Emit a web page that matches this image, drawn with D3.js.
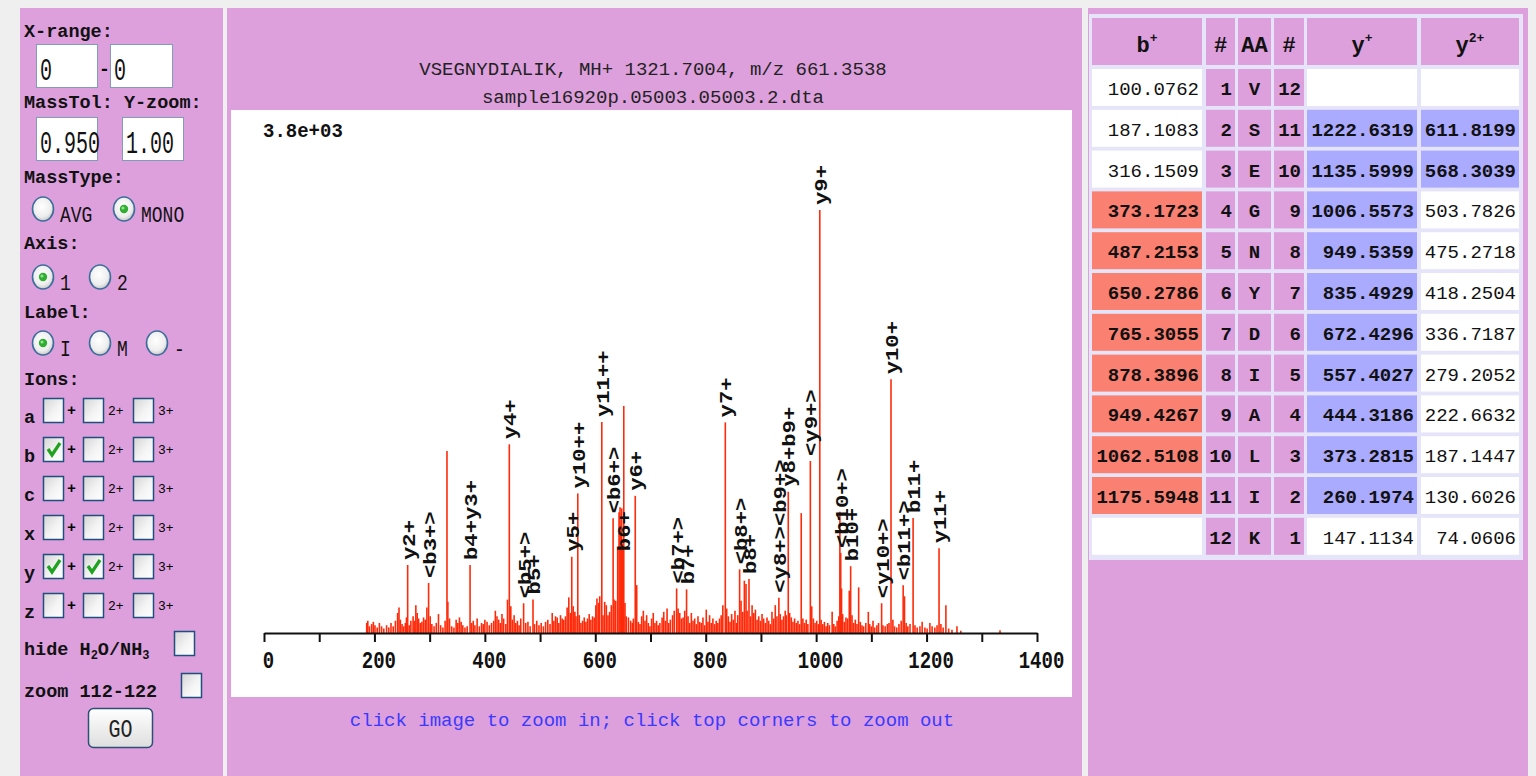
<!DOCTYPE html>
<html>
<head>
<meta charset="utf-8">
<script src="https://cdn.jsdelivr.net/npm/d3@7"></script>
<style>
body { margin: 0; background: #efefef; overflow: hidden; }
svg { display: block; }
text { font-family: "Liberation Mono", monospace; }
</style>
</head>
<body>
<svg id="page" width="1536" height="776"></svg>
<script>
// ---- data ----
var peptide = 'VSEGNYDIALIK';
var titleLine1 = 'VSEGNYDIALIK, MH+ 1321.7004, m/z 661.3538';
var titleLine2 = 'sample16920p.05003.05003.2.dta';
var maxIntensity = 3800;
var maxLabel = '3.8e+03';
var xTicks = [0,100,200,300,400,500,600,700,800,900,1000,1100,1200,1300,1400];

var residues = ['V','S','E','G','N','Y','D','I','A','L','I','K'];
var bIons  = ['100.0762','187.1083','316.1509','373.1723','487.2153','650.2786','765.3055','878.3896','949.4267','1062.5108','1175.5948',''];
var yIons  = ['','1222.6319','1135.5999','1006.5573','949.5359','835.4929','672.4296','557.4027','444.3186','373.2815','260.1974','147.1134'];
var y2Ions = ['','611.8199','568.3039','503.7826','475.2718','418.2504','336.7187','279.2052','222.6632','187.1447','130.6026','74.0606'];
var bFound  = [0,0,0,1,1,1,1,1,1,1,1,0];
var yFound  = [0,1,1,1,1,1,1,1,1,1,1,0];
var y2Found = [0,1,1,0,0,0,0,0,0,0,0,0];

// [m/z, intensity, label]
var labeledPeaks = [
  [260.2, 611, 'y2+'], [298.1, 449, '<b3+>'], [373.2, 611, 'b4+y3+'], [444.3, 1695, 'y4+'],
  [470.2, 267, '<b5+>'], [487.2, 302, 'b5+'], [557.4, 685, 'y5+'], [568.3, 1254, 'y10++'],
  [611.8, 1895, 'y11++'], [632.3, 1030, '<b6+>'], [650.3, 690, 'b6+'], [672.4, 1232, 'y6+'],
  [747.3, 400, '<b7+>'], [765.3, 392, 'b7+'], [835.5, 1892, 'y7+'], [861.4, 572, '<b8+>'],
  [878.4, 485, 'b8+'], [932.5, 317, '<y8+><b9+>'], [949.5, 1269, 'y8+b9+'], [989.5, 1545, '<y9+>'],
  [1006.6, 3800, 'y9+'], [1044.5, 718, '<b10+>'], [1062.5, 600, 'b10+'], [1118.6, 267, '<y10+>'],
  [1135.6, 2279, 'y10+'], [1157.6, 428, '<b11+>'], [1175.6, 1034, 'b11+'], [1222.6, 761, 'y11+']
];

// [m/z, intensity] unlabelled peaks
var otherPeaks = [
  [186,90],[188,110],[191,60],[195,80],[198,100],[201,70],[205,50],[209,90],[213,60],[217,40],[222,70],[226,50],[230,90],[234,60],[238,110],
  [242,180],[244.5,230],[247,120],[250,80],[253,60],[256,90],[258,140],[263,70],[266,110],[270,150],[272,110],[275,250],[277.5,180],[280,130],
  [283,90],[286,100],[289,140],[292,120],[295,230],[301,150],[304,80],[308,60],[312,90],[316,170],[320,70],[324,50],[328,110],
  [331.4,1634],[333,280],[336,130],[340,60],[344,50],[348,120],[351,90],[354,140],[357,100],[360,70],[364,50],[368,60],[376,90],[379,110],
  [382,70],[386,130],[390,60],[394,90],[397,80],[400,120],[404,100],[408,70],[412,90],[416,110],[419,200],[422,150],[425,120],[428,90],
  [431,170],[434,130],[438,80],[441,300],[447,240],[450,120],[453,160],[456,90],[459,110],[462,70],[465,130],[474,90],[478,100],[482,60],
  [490,80],[494,110],[498,70],[502,90],[506,60],[510,100],[514,120],[518,80],[522,180],[525,110],[528,150],[531,140],[534,90],[537,160],
  [540,130],[543,120],[546,150],[549,230],[552,320],[555,180],[560,240],[563,190],[565,150],[571,160],[574,90],[577,110],[580,140],[583,100],
  [586,130],[589,170],[592,120],[595,150],[598,140],[601,250],[603,310],[606,270],[608,330],[614,160],[617,280],[620,250],[623,160],[626,190],
  [629,250],[634,300],[637,290],[640.6,770],[643,1085],[644.8,1130],[646.3,900],[647.8,1120],[649,800],[651.6,2040],[653.8,270],[656,150],
  [660,140],[664,110],[667,90],[669,130],[675,430],[678,100],[681,80],[684,150],[687,200],[690,110],[693,160],[696,90],[699,60],[702,130],
  [705,180],[708,90],[711,110],[714,70],[717,90],[721,140],[724,190],[727,110],[730,220],[733,90],[736,120],[740,160],[743,200],[750,220],
  [753,180],[756,130],[759,140],[762,200],[768,150],[771,90],[774,180],[777,110],[780,130],[783,80],[786,150],[789,100],[792,90],[795,140],
  [798,70],[801,210],[804,100],[807,160],[810,90],[813,130],[816,80],[819,110],[822,90],[825,130],[828,160],[831,250],[838,220],[841,150],
  [844,100],[847,170],[850,120],[853,200],[856,90],[858,160],[864,290],[867,190],[870,470],[873,440],[875,200],[881,150],[884,250],[887,180],
  [890,210],[893,120],[896,150],[899,110],[902,170],[905,130],[908,90],[911,140],[914,110],[917,80],[920,190],[923,130],[926,250],[929,150],
  [935,170],[938,120],[941,150],[944,200],[946,160],[952,180],[955,140],[958,100],[961,130],[964,90],[967,110],[970,80],[973,1077],[976,130],
  [979,90],[982,120],[985,80],[992,240],[995,130],[998,90],[1001,110],[1004,80],[1009,120],[1012,80],[1015,100],[1018,60],[1021,90],[1024,70],
  [1029,190],[1032,80],[1035,60],[1038,110],[1041,150],[1043,1090],[1046,400],[1048,170],[1051,100],[1054,140],[1057,130],[1060,380],
  [1065,160],[1068,90],[1071,120],[1074,80],[1077,410],[1080,100],[1083,70],[1086,60],[1090,90],[1094.5,190],[1097,80],[1100,60],[1103,110],
  [1106,50],[1110,70],[1113,90],[1121,70],[1125,60],[1129,80],[1132,90],[1139,120],[1142,60],[1146,50],[1150,80],[1154,110],[1160,330],
  [1163,90],[1166,60],[1170,80],[1179,70],[1183,50],[1188,60],[1192,100],[1197,50],[1201,40],[1206,90],[1210,60],[1215,50],[1219,70],
  [1226,80],[1230,50],[1235,249],[1240,40],[1246,30],[1255,60],[1262,20],[1333,25]
];

var ionLetters = ['a','b','c','x','y','z'];
var ionChecked = [[0,0,0],[1,0,0],[0,0,0],[0,0,0],[1,1,0],[0,0,0]];

// ---- page ----
var plum = '#dda0dd';
var svg = d3.select('#page');
var defs = svg.append('defs');

var lg = defs.append('linearGradient').attr('id', 'boxGrad')
  .attr('x1', 0).attr('y1', 0).attr('x2', 1).attr('y2', 1);
lg.append('stop').attr('offset', '0%').attr('stop-color', '#d4d4d4');
lg.append('stop').attr('offset', '55%').attr('stop-color', '#f4f4f4');
lg.append('stop').attr('offset', '100%').attr('stop-color', '#ffffff');

var rg = defs.append('radialGradient').attr('id', 'radGrad')
  .attr('cx', '45%').attr('cy', '40%').attr('r', '60%');
rg.append('stop').attr('offset', '0%').attr('stop-color', '#ffffff');
rg.append('stop').attr('offset', '70%').attr('stop-color', '#eeeeee');
rg.append('stop').attr('offset', '100%').attr('stop-color', '#c8c8c8');

var bg = defs.append('linearGradient').attr('id', 'btnGrad')
  .attr('x1', 0).attr('y1', 0).attr('x2', 0).attr('y2', 1);
bg.append('stop').attr('offset', '0%').attr('stop-color', '#ffffff');
bg.append('stop').attr('offset', '100%').attr('stop-color', '#dedede');

svg.append('rect').attr('x', 20).attr('y', 8).attr('width', 203).attr('height', 768).attr('fill', plum);
svg.append('rect').attr('x', 227).attr('y', 8).attr('width', 855).attr('height', 768).attr('fill', plum);
svg.append('rect').attr('x', 1088).attr('y', 8).attr('width', 440).attr('height', 768).attr('fill', plum);

// ---- left form ----
var form = svg.append('g');

function heading(x, y, t) {
  return form.append('text').attr('x', x).attr('y', y)
    .attr('font-size', 18.5).attr('font-weight', 'bold').attr('fill', '#111').text(t);
}
function inputBox(x, y, w, val) {
  form.append('rect').attr('x', x + 0.5).attr('y', y + 0.5).attr('width', w).attr('height', 43)
    .attr('fill', '#fff').attr('stroke', '#7f9db9');
  form.append('text').attr('transform', 'translate(' + (x + 4) + ',' + (y + 36) + ') scale(1,1.6)')
    .attr('font-family', '"Liberation Sans", sans-serif').attr('font-size', 20).attr('fill', '#111').text(val);
}
function radio(cx, cy, on, lab) {
  form.append('ellipse').attr('cx', cx).attr('cy', cy).attr('rx', 10.5).attr('ry', 12)
    .attr('fill', 'url(#radGrad)').attr('stroke', '#3b6e9b').attr('stroke-width', 1.6);
  if (on) {
    form.append('circle').attr('cx', cx).attr('cy', cy).attr('r', 4.2).attr('fill', '#2fae2f');
    form.append('circle').attr('cx', cx - 1).attr('cy', cy - 1).attr('r', 1.6).attr('fill', '#8fe08f');
  }
  form.append('text').attr('transform', 'translate(' + (cx + 17) + ',' + (cy + 13) + ') scale(1,1.2)')
    .attr('font-size', 18).attr('fill', '#111').text(lab);
}
function checkbox(x, y, on) {
  form.append('rect').attr('x', x + 0.5).attr('y', y + 0.5).attr('width', 20).attr('height', 24)
    .attr('fill', 'url(#boxGrad)').attr('stroke', '#1f4f7d').attr('stroke-width', 1.5);
  if (on) {
    form.append('path').attr('d', 'M' + (x + 5) + ',' + (y + 12) + 'l4,6l8,-12')
      .attr('fill', 'none').attr('stroke', '#1fa21f').attr('stroke-width', 3.2);
  }
}

heading(24, 37, 'X-range:');
inputBox(36, 44, 61, '0');
form.append('text').attr('x', 99).attr('y', 75).attr('font-size', 18).attr('font-weight', 'bold').text('-');
inputBox(110, 44, 62, '0');
heading(24, 108, 'MassTol: Y-zoom:');
inputBox(36, 117, 61, '0.950');
inputBox(122, 117, 61, '1.00');
heading(24, 183, 'MassType:');
radio(43, 209, false, 'AVG');
radio(124, 209, true, 'MONO');
heading(24, 249, 'Axis:');
radio(43, 277, true, '1');
radio(100, 277, false, '2');
heading(24, 318, 'Label:');
radio(43, 343, true, 'I');
radio(100, 343, false, 'M');
radio(157, 343, false, '-');
heading(24, 385, 'Ions:');

ionLetters.forEach(function(l, i) {
  var top = 398 + i * 39;
  heading(24, top + 25, l);
  checkbox(43, top, ionChecked[i][0]);
  form.append('text').attr('x', 67).attr('y', top + 17).attr('font-size', 15).attr('font-weight', 'bold').text('+');
  checkbox(83, top, ionChecked[i][1]);
  form.append('text').attr('x', 108).attr('y', top + 17).attr('font-size', 13).text('2+');
  checkbox(133, top, ionChecked[i][2]);
  form.append('text').attr('x', 158).attr('y', top + 17).attr('font-size', 13).text('3+');
});

var hide = heading(24, 655, '');
hide.append('tspan').text('hide H');
hide.append('tspan').attr('font-size', 12).attr('dy', 4).text('2');
hide.append('tspan').attr('dy', -4).text('O/NH');
hide.append('tspan').attr('font-size', 12).attr('dy', 4).text('3');
checkbox(174, 631, 0);
heading(24, 697, 'zoom 112-122');
checkbox(181, 673, 0);

form.append('rect').attr('x', 88.5).attr('y', 708.5).attr('width', 64).attr('height', 39).attr('rx', 5)
  .attr('fill', 'url(#btnGrad)').attr('stroke', '#2d4f75').attr('stroke-width', 1.5);
form.append('text').attr('transform', 'translate(120.5,737) scale(1,1.3)').attr('text-anchor', 'middle')
  .attr('font-family', '"Liberation Sans", sans-serif').attr('font-size', 20).attr('fill', '#222').text('GO');

// ---- spectrum ----
svg.append('text').attr('x', 653).attr('y', 75).attr('text-anchor', 'middle').attr('font-size', 19).attr('fill', '#222').text(titleLine1);
svg.append('text').attr('x', 653).attr('y', 103).attr('text-anchor', 'middle').attr('font-size', 19).attr('fill', '#222').text(titleLine2);
svg.append('rect').attr('x', 231).attr('y', 110).attr('width', 841).attr('height', 587).attr('fill', '#fff');
svg.append('text').attr('x', 652).attr('y', 726).attr('text-anchor', 'middle').attr('font-size', 19).attr('fill', '#3a3aff')
  .text('click image to zoom in; click top corners to zoom out');

var x = d3.scaleLinear().domain([0, 1400]).range([264, 1037]);
var y = d3.scaleLinear().domain([0, maxIntensity]).range([633, 210]);

var plot = svg.append('g');
var allPeaks = otherPeaks.concat(labeledPeaks.map(function(p) { return [p[0], p[1]]; }));

plot.selectAll('line.peak').data(allPeaks).enter().append('line')
  .attr('class', 'peak')
  .attr('x1', function(d) { return x(d[0]); }).attr('x2', function(d) { return x(d[0]); })
  .attr('y1', y(0)).attr('y2', function(d) { return y(d[1]); })
  .attr('stroke', '#ff2a0a').attr('stroke-width', 1.6);

plot.selectAll('text.lab').data(labeledPeaks).enter().append('text')
  .attr('class', 'lab')
  .attr('transform', function(d) { return 'translate(' + (x(d[0]) + 7) + ',' + (y(d[1]) - 5) + ') rotate(-90) scale(1.17,1)'; })
  .attr('font-family', '"DejaVu Sans Mono", monospace').attr('font-weight', 'bold')
  .attr('font-size', 19).attr('fill', '#111')
  .text(function(d) { return d[2]; });

var axis = d3.axisBottom(x).tickValues(xTicks).tickSize(9).tickSizeOuter(0)
  .tickFormat(function(d) { return d % 200 === 0 ? d : ''; });
var ag = plot.append('g').attr('transform', 'translate(0,' + y(0) + ')').call(axis);
ag.select('.domain').attr('stroke', '#111').attr('stroke-width', 2);
ag.selectAll('.tick line').attr('stroke', '#111').attr('stroke-width', 2);
ag.selectAll('.tick text')
  .attr('y', null).attr('dy', null)
  .attr('transform', 'translate(4,35) scale(1,1.25)')
  .attr('font-family', '"DejaVu Sans Mono", monospace').attr('font-weight', 'bold')
  .attr('font-size', 19).attr('fill', '#111');

plot.append('text').attr('transform', 'translate(263,137) scale(1,1.1)')
  .attr('font-family', '"DejaVu Sans Mono", monospace').attr('font-weight', 'bold')
  .attr('font-size', 19).attr('fill', '#111').text(maxLabel);

// ---- fragment table ----
var colX = [1092, 1206, 1238, 1274, 1307, 1421];
var colW = [110, 29, 33, 30, 110, 98];
var tbl = svg.append('g');
tbl.append('rect').attr('x', 1089).attr('y', 14).attr('width', 434).attr('height', 546).attr('fill', '#e6e4f8');

function cell(ci, top, h, fill) {
  tbl.append('rect').attr('x', colX[ci]).attr('y', top).attr('width', colW[ci]).attr('height', h).attr('fill', fill);
}
var heads = [['b', '+'], ['#', ''], ['AA', ''], ['#', ''], ['y', '+'], ['y', '2+']];
heads.forEach(function(hd, ci) {
  cell(ci, 18, 47, plum);
  var t = tbl.append('text').attr('x', colX[ci] + colW[ci] / 2).attr('y', 52).attr('text-anchor', 'middle')
    .attr('font-family', '"Liberation Serif", serif').attr('font-weight', 'bold').attr('font-size', 22).attr('fill', '#111');
  t.append('tspan').text(hd[0]);
  if (hd[1]) t.append('tspan').attr('font-size', 13).attr('dy', -10).text(hd[1]);
});

residues.forEach(function(aa, i) {
  var top = 69 + i * 40.8;
  var base = top + 26;
  var cols = [
    { v: bIons[i], fill: bFound[i] ? '#fa8072' : '#fff', bold: bFound[i], anchor: 'end' },
    { v: String(i + 1), fill: plum, bold: 1, anchor: 'end' },
    { v: aa, fill: plum, bold: 1, anchor: 'middle' },
    { v: String(residues.length - i), fill: plum, bold: 1, anchor: 'end' },
    { v: yIons[i], fill: yFound[i] ? '#aaaaff' : '#fff', bold: yFound[i], anchor: 'end' },
    { v: y2Ions[i], fill: y2Found[i] ? '#aaaaff' : '#fff', bold: y2Found[i], anchor: 'end' }
  ];
  cols.forEach(function(c, ci) {
    cell(ci, top, 37, c.fill);
    var tx = c.anchor === 'middle' ? colX[ci] + colW[ci] / 2 : colX[ci] + colW[ci] - 3;
    tbl.append('text').attr('x', tx).attr('y', base).attr('text-anchor', c.anchor)
      .attr('font-size', 19).attr('font-weight', c.bold ? 'bold' : 'normal').attr('fill', '#111')
      .text(c.v);
  });
});
</script>
</body>
</html>
